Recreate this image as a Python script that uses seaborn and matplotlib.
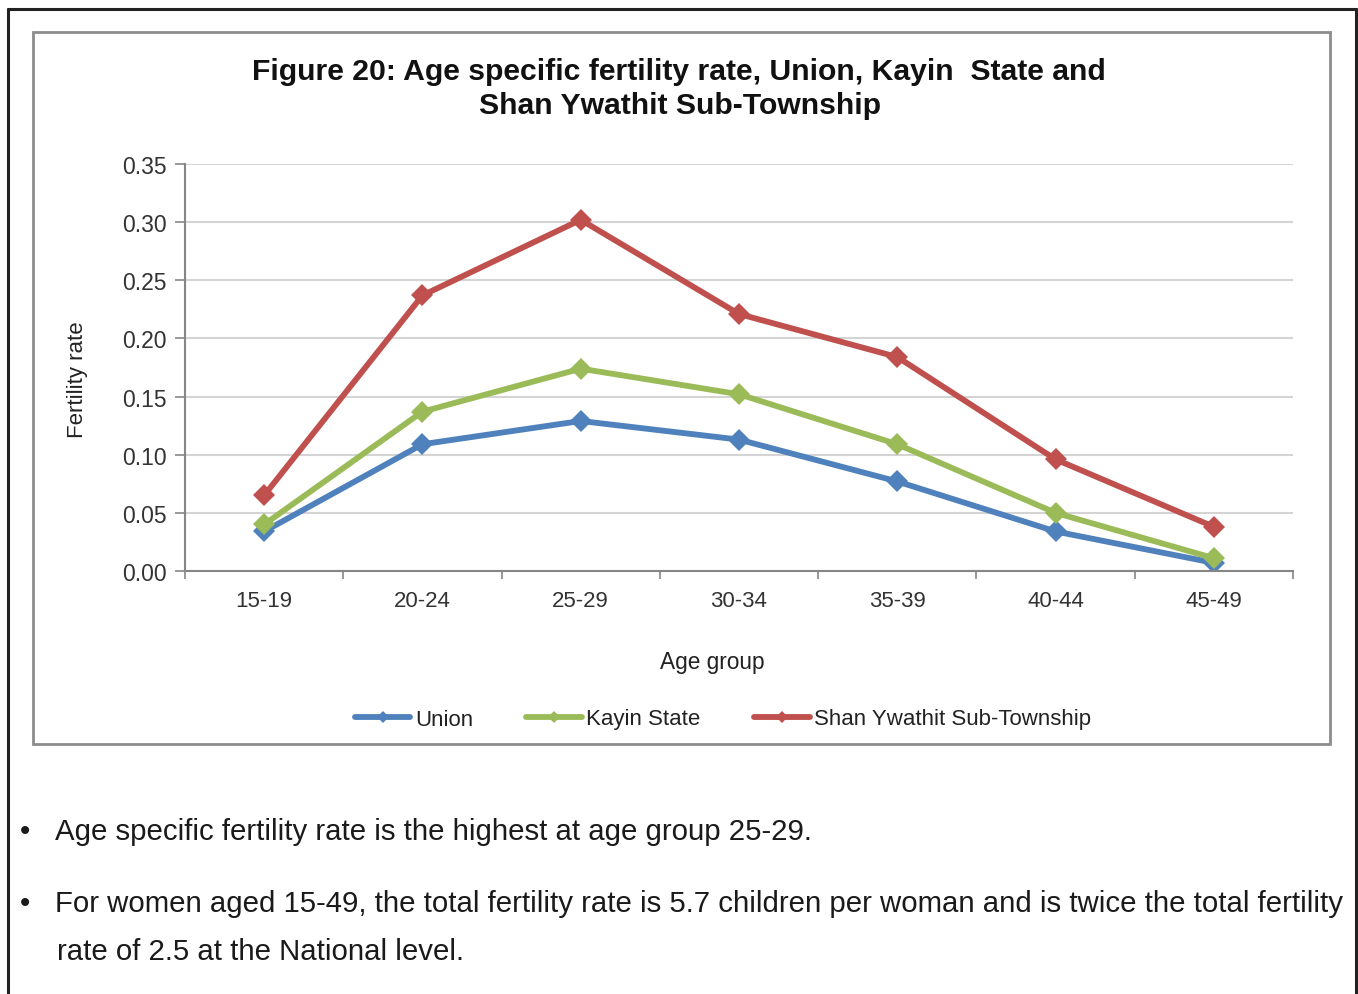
import matplotlib
matplotlib.use("Agg")
import matplotlib.pyplot as plt
import numpy as np
import pandas as pd
import seaborn as sns
from matplotlib.lines import Line2D
from matplotlib.patches import Rectangle

# Age groups and age specific fertility rates
age_groups = ["15-19", "20-24", "25-29", "30-34", "35-39", "40-44", "45-49"]
union = [0.034, 0.109, 0.129, 0.113, 0.077, 0.034, 0.007]
kayin_state = [0.040, 0.137, 0.174, 0.152, 0.109, 0.050, 0.011]
shan_ywathit = [0.065, 0.237, 0.302, 0.221, 0.184, 0.096, 0.038]

series_names = ["Union", "Kayin State", "Shan Ywathit Sub-Township"]
series_values = [union, kayin_state, shan_ywathit]
y_ticks = [0.00, 0.05, 0.10, 0.15, 0.20, 0.25, 0.30, 0.35]

colors = {"Union": "#4F81BD", "Kayin State": "#9BBB59",
          "Shan Ywathit Sub-Township": "#C0504D"}

df = pd.DataFrame({
    "age": np.tile(age_groups, len(series_names)),
    "rate": np.concatenate(series_values),
    "series": np.repeat(series_names, len(age_groups)),
})

sns.set_theme(style="white")
plt.rcParams["font.family"] = ["Liberation Sans", "DejaVu Sans"]

W, H = 1358, 995
fig = plt.figure(figsize=(W / 100, H / 100), dpi=100)
fig.patch.set_facecolor("white")

def fx(px):
    return px / W

def fy(py):
    return 1 - py / H

# Outer page frame (open at the bottom)
for xs, ys in [([8, 8], [995, 10]), ([8, 1356], [10, 10]), ([1356, 1356], [10, 995])]:
    fig.add_artist(Line2D([fx(x) for x in xs], [fy(y) for y in ys],
                          color="#222222", lw=2.2, transform=fig.transFigure))

# Chart area border
fig.add_artist(Rectangle((fx(33), fy(745)), fx(1330) - fx(33), fy(33) - fy(745),
                         transform=fig.transFigure, fill=False,
                         edgecolor="#8C8C8C", lw=2))

ax = fig.add_axes([fx(185), fy(572), fx(1293) - fx(185), fy(165) - fy(572)])

sns.lineplot(data=df, x="age", y="rate", hue="series", hue_order=series_names,
             palette=colors, marker="D", markersize=11, markeredgewidth=0,
             linewidth=4.2, legend=False, ax=ax, sort=False)

ax.set_xlim(-0.5, len(age_groups) - 0.5)
ax.set_ylim(0, 0.35)
ax.set_yticks(y_ticks)
ax.set_yticklabels([f"{v:.2f}" for v in y_ticks], fontsize=16.5, color="#333333")
ax.set_xticks(range(len(age_groups)))
ax.set_xticklabels(age_groups, fontsize=16, color="#333333")
ax.set_xticks(np.arange(-0.5, len(age_groups), 1.0), minor=True)
ax.tick_params(axis="x", which="major", length=0, pad=14)
ax.tick_params(axis="x", which="minor", length=6, width=1.2, color="#868686",
               direction="out", bottom=True)
ax.tick_params(axis="y", length=7, width=1.2, color="#868686", direction="out",
               left=True, pad=6)

ax.yaxis.grid(True, color="#D4D4D4", lw=1.5)
ax.xaxis.grid(False)
ax.set_axisbelow(True)
for side in ["top", "right"]:
    ax.spines[side].set_visible(False)
for side in ["left", "bottom"]:
    ax.spines[side].set_color("#868686")
    ax.spines[side].set_linewidth(1.5)

ax.set_xlabel("")
ax.set_ylabel("")
fig.text(fx(712), fy(662), "Age group", fontsize=16.3, color="#222222",
         ha="center", va="center")
fig.text(fx(78), fy(380), "Fertility rate", fontsize=16, color="#222222",
         ha="center", va="center", rotation=90)

fig.text(fx(679), fy(72), "Figure 20: Age specific fertility rate, Union, Kayin  State and",
         fontsize=21.7, fontweight="bold", color="#111111", ha="center", va="center")
fig.text(fx(680), fy(106), "Shan Ywathit Sub-Township",
         fontsize=21.7, fontweight="bold", color="#111111", ha="center", va="center")

handles = [Line2D([], [], color=colors[n], lw=4.2, marker="D", markersize=6,
                  markeredgewidth=0) for n in series_names]
fig.legend(handles, series_names, loc="center", bbox_to_anchor=(fx(723), fy(720)),
           ncol=3, frameon=False, fontsize=16, handlelength=2.5, handletextpad=0.2,
           columnspacing=2.4, labelcolor="#222222")

# Notes below the chart
body = dict(fontsize=21.2, color="#1a1a1a", va="center", ha="left")
fig.text(fx(20), fy(832), "•", **body)
fig.text(fx(55), fy(832), "Age specific fertility rate is the highest at age group 25-29.", **body)
fig.text(fx(20), fy(904), "•", **body)
fig.text(fx(55), fy(904), "For women aged 15-49, the total fertility rate is 5.7 children per woman "
         "and is twice the total fertility", **body)
fig.text(fx(57), fy(952), "rate of 2.5 at the National level.", **body)

fig.savefig("out.png", dpi=100, facecolor="white")
